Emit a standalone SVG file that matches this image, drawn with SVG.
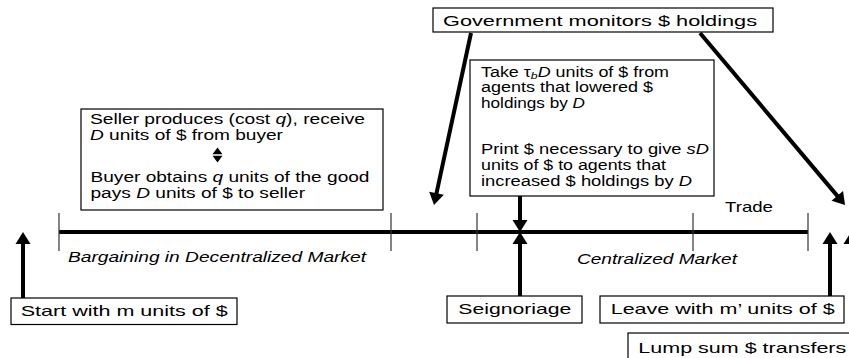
<svg xmlns="http://www.w3.org/2000/svg" width="849" height="358" viewBox="0 0 849 358">
<defs>
<style>
.box{fill:#fff;stroke:#000;stroke-width:1.2}
.t{font-family:"Liberation Sans",Arial,sans-serif;font-size:15px;fill:#000}
.m{font-size:13.8px}
.i{font-style:italic}
.arr{stroke:#000;stroke-width:4;fill:none;marker-end:url(#ah)}
.tick{stroke:#333;stroke-width:1.2}
.tl{stroke:#000;stroke-width:4}
</style>
<marker id="ah" markerUnits="userSpaceOnUse" markerWidth="14" markerHeight="16" refX="2" refY="7.5" orient="auto" overflow="visible">
<path d="M0,0 L12,7.5 L0,15 Z" fill="#000"/>
</marker>
</defs>
<rect width="849" height="358" fill="#fff"/>
<g id="timeline">
<line class="tl" x1="59" y1="232" x2="808" y2="232"/>
<line class="tick" x1="59" y1="213" x2="59" y2="251"/>
<line class="tick" x1="391" y1="213" x2="391" y2="251"/>
<line class="tick" x1="477" y1="213" x2="477" y2="251"/>
<line class="tick" x1="693" y1="213" x2="693" y2="251"/>
<line class="tick" x1="808" y1="213" x2="808" y2="251"/>
<text class="t i" x="68" y="262" textLength="298" lengthAdjust="spacingAndGlyphs">Bargaining in Decentralized Market</text>
<text class="t i" x="577" y="264" textLength="160" lengthAdjust="spacingAndGlyphs">Centralized Market</text>
<text class="t" x="725" y="212" textLength="48" lengthAdjust="spacingAndGlyphs">Trade</text>
</g>
<g id="connectors">
<line class="arr" x1="23" y1="298" x2="23" y2="242"/>
<line class="arr" x1="520" y1="296" x2="520" y2="242"/>
<line class="arr" x1="520" y1="196" x2="520" y2="222"/>
<line class="arr" x1="830" y1="296" x2="830" y2="242"/>
<line class="arr" x1="851" y1="333" x2="851" y2="242"/>
<line class="arr" x1="471" y1="33" x2="436.1" y2="195.2"/>
<line class="arr" x1="700" y1="33" x2="838.6" y2="197.4"/>
</g>
<g id="gov">
<rect class="box" x="433" y="8" width="340" height="24"/>
<text class="t" x="443" y="26" textLength="314" lengthAdjust="spacingAndGlyphs">Government monitors $ holdings</text>
</g>
<g id="central">
<rect class="box" x="470" y="60" width="244" height="136"/>
<text class="t m" x="481" y="76.5" textLength="188" lengthAdjust="spacingAndGlyphs">Take τ<tspan class="i" font-size="9.5" dy="2">b</tspan><tspan class="i" dy="-2">D</tspan> units of $ from</text>
<text class="t m" x="481" y="92" textLength="172" lengthAdjust="spacingAndGlyphs">agents that lowered $</text>
<text class="t m" x="481" y="108" textLength="104" lengthAdjust="spacingAndGlyphs">holdings by <tspan class="i">D</tspan></text>
<text class="t m" x="481" y="154" textLength="228" lengthAdjust="spacingAndGlyphs">Print $ necessary to give <tspan class="i">sD</tspan></text>
<text class="t m" x="481" y="170" textLength="185" lengthAdjust="spacingAndGlyphs">units of $ to agents that</text>
<text class="t m" x="481" y="186" textLength="211" lengthAdjust="spacingAndGlyphs">increased $ holdings by <tspan class="i">D</tspan></text>
</g>
<g id="bargain">
<rect class="box" x="81" y="109" width="302" height="101"/>
<text class="t m" x="90" y="124" textLength="275" lengthAdjust="spacingAndGlyphs">Seller produces (cost <tspan class="i">q</tspan>), receive</text>
<text class="t m" x="90" y="139.5" textLength="193" lengthAdjust="spacingAndGlyphs"><tspan class="i">D</tspan> units of $ from buyer</text>
<path d="M217.5,147.5 L212.5,154.3 L222.5,154.3 Z M212.5,155.7 L222.5,155.7 L217.5,162.5 Z" fill="#000"/>
<text class="t m" x="90.5" y="182" textLength="279" lengthAdjust="spacingAndGlyphs">Buyer obtains <tspan class="i">q</tspan> units of the good</text>
<text class="t m" x="90.5" y="197.5" textLength="214.5" lengthAdjust="spacingAndGlyphs">pays <tspan class="i">D</tspan> units of $ to seller</text>
</g>
<g id="start">
<rect class="box" x="11" y="298" width="226" height="26.5"/>
<text class="t" x="20.7" y="315.5" textLength="207" lengthAdjust="spacingAndGlyphs">Start with m units of $</text>
</g>
<g id="seign">
<rect class="box" x="447" y="296" width="135" height="27"/>
<text class="t" x="458.3" y="314" textLength="113" lengthAdjust="spacingAndGlyphs">Seignoriage</text>
</g>
<g id="leave">
<rect class="box" x="600" y="296" width="244" height="27"/>
<text class="t" x="610.7" y="314" textLength="224" lengthAdjust="spacingAndGlyphs">Leave with m’ units of $</text>
</g>
<g id="lump">
<rect class="box" x="628" y="333" width="240" height="32"/>
<text class="t" x="638.3" y="353.3" textLength="208" lengthAdjust="spacingAndGlyphs">Lump sum $ transfers</text>
</g>
</svg>
